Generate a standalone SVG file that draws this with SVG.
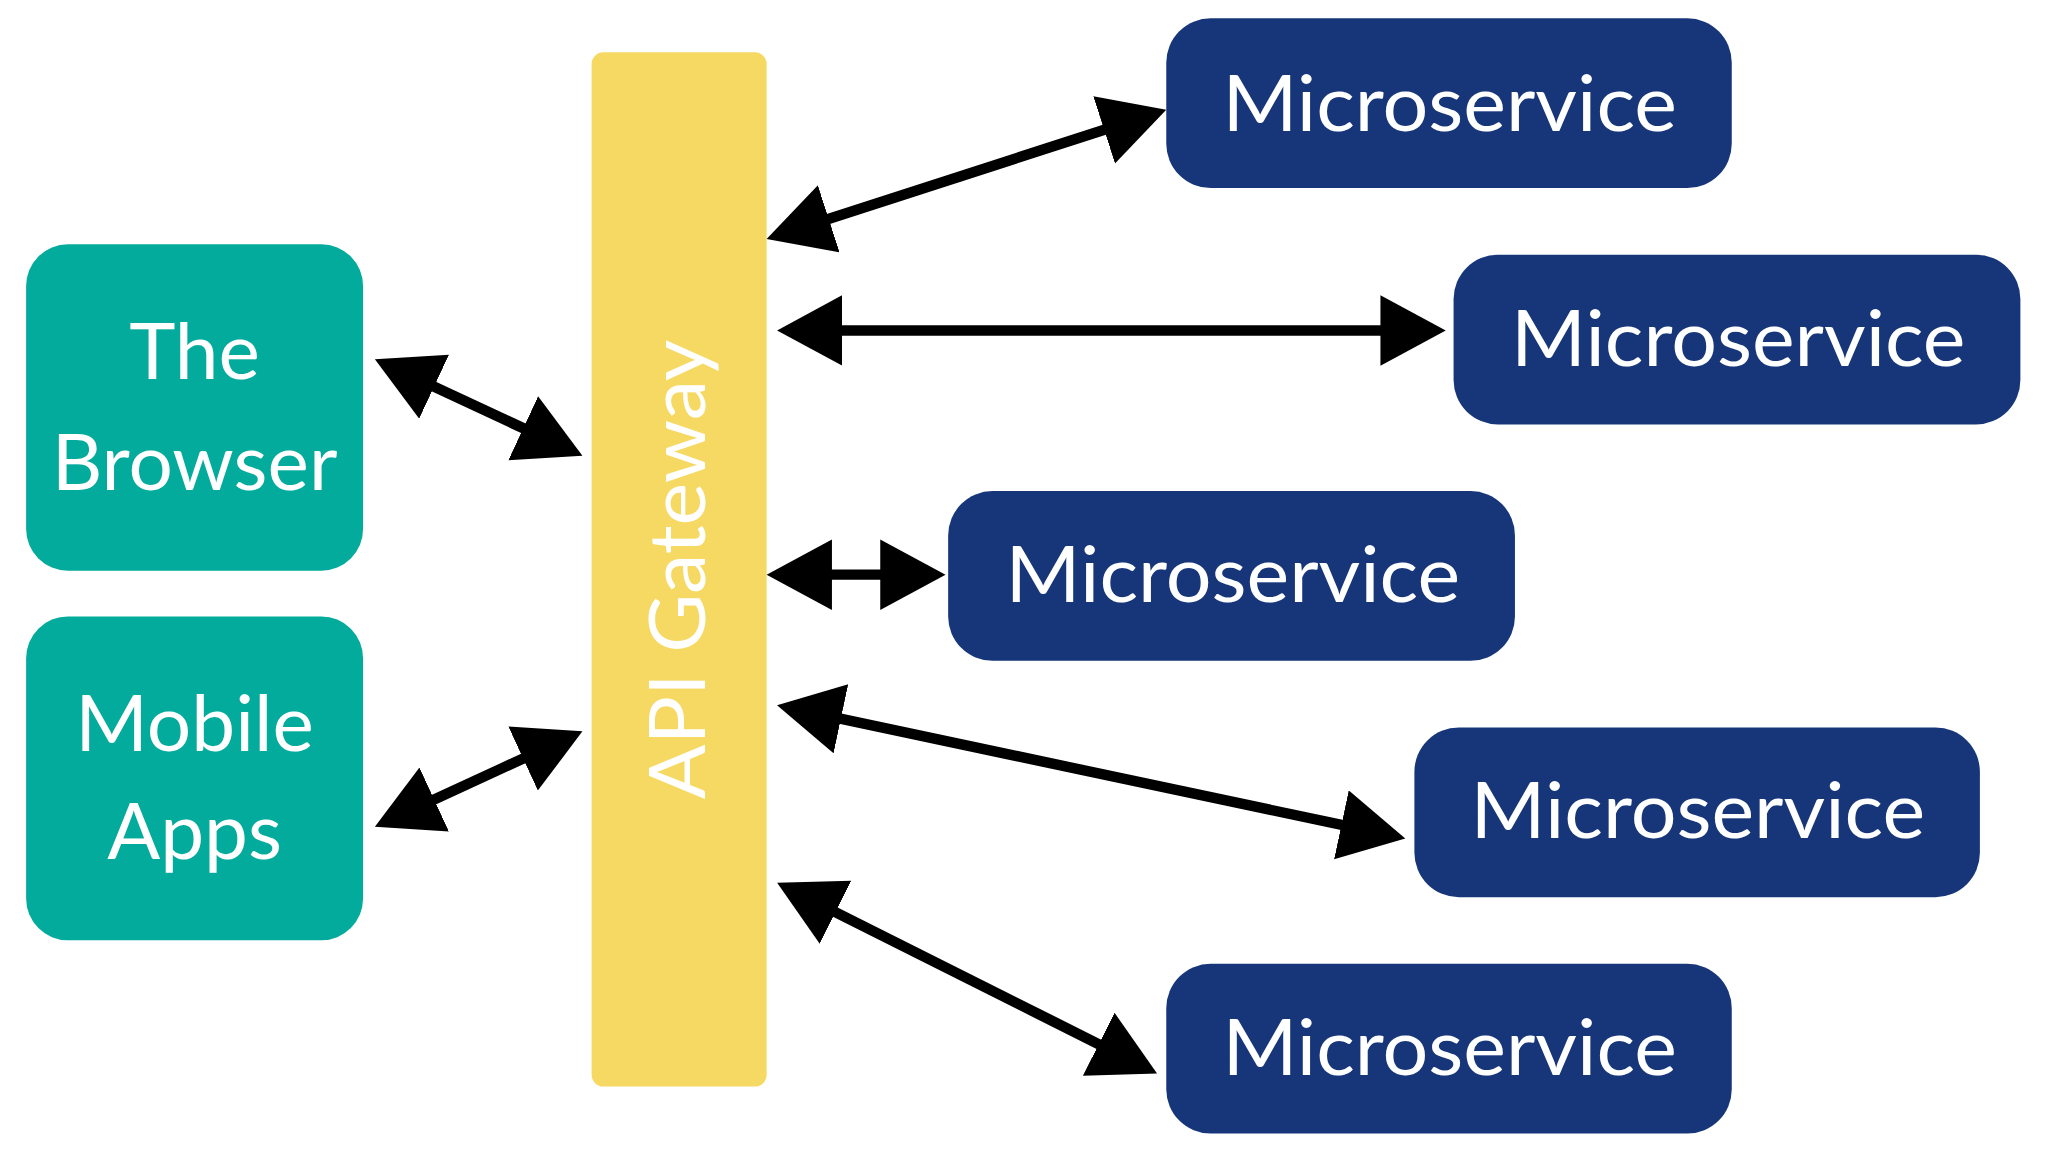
<svg xmlns="http://www.w3.org/2000/svg" width="2048" height="1152" viewBox="0 0 2048 1152">
<style>
.client{fill:#03AB9C}
.ms{fill:#17367A}
.t{fill:#fff;font-family:Lato,"Open Sans",sans-serif;font-size:60px;text-anchor:middle}
.c{stroke:#000;stroke-width:8;fill:none;marker-start:url(#ah);marker-end:url(#ah)}
</style>
<defs>
<marker id="ah" markerUnits="userSpaceOnUse" markerWidth="52" markerHeight="56" refX="42" refY="27" orient="auto-start-reverse" viewBox="0 0 52 56">
<path d="M0,0 L50,27 L0,54 z" fill="#000"/>
</marker>
</defs>
<rect width="2048" height="1152" fill="#fff"/>
<g transform="scale(1.306)">
<g id="gateway">
<rect x="453" y="40" width="134" height="792" rx="9" fill="#F6D963"/>
<text class="t" transform="translate(540,436) rotate(-90)" textLength="352" lengthAdjust="spacingAndGlyphs">API Gateway</text>
</g>
<g id="browser">
<rect class="client" x="20" y="187" width="258" height="250" rx="32"/>
<text class="t" x="149" y="290">The</text>
<text class="t" x="149" y="375">Browser</text>
</g>
<g id="mobile">
<rect class="client" x="20" y="472" width="258" height="248" rx="32"/>
<text class="t" x="149" y="575">Mobile</text>
<text class="t" x="149" y="658">Apps</text>
</g>
<g id="ms1"><rect class="ms" x="893" y="14" width="433" height="130" rx="34"/><text class="t" x="1110" y="100" textLength="348" lengthAdjust="spacingAndGlyphs">Microservice</text></g>
<g id="ms2"><rect class="ms" x="1113" y="195" width="434" height="130" rx="34"/><text class="t" x="1331" y="280" textLength="348" lengthAdjust="spacingAndGlyphs">Microservice</text></g>
<g id="ms3"><rect class="ms" x="726" y="376" width="434" height="130" rx="34"/><text class="t" x="944" y="461" textLength="348" lengthAdjust="spacingAndGlyphs">Microservice</text></g>
<g id="ms4"><rect class="ms" x="1083" y="557" width="433" height="130" rx="34"/><text class="t" x="1300" y="642" textLength="348" lengthAdjust="spacingAndGlyphs">Microservice</text></g>
<g id="ms5"><rect class="ms" x="893" y="738" width="433" height="130" rx="34"/><text class="t" x="1110" y="823" textLength="348" lengthAdjust="spacingAndGlyphs">Microservice</text></g>
<g id="connectors">
<line class="c" x1="594.6" y1="180.5" x2="885.4" y2="86.5"/>
<line class="c" x1="603" y1="253" x2="1099" y2="253"/>
<line class="c" x1="595" y1="440" x2="716" y2="440"/>
<line class="c" x1="602.8" y1="541.7" x2="1068.2" y2="640.3"/>
<line class="c" x1="602.2" y1="679.6" x2="878.8" y2="818.4"/>
<line class="c" x1="294.3" y1="278.4" x2="438.7" y2="345.6"/>
<line class="c" x1="294.3" y1="629.7" x2="438.7" y2="563.3"/>
</g>
</g>
</svg>
